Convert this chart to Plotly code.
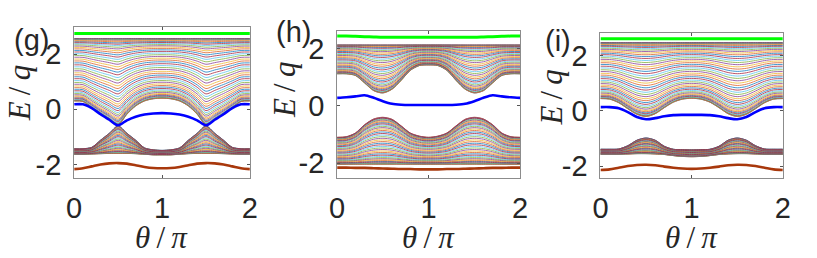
import plotly.graph_objects as go
import math

# ---------------- data ----------------
THETA = [0.0, 0.1, 0.2, 0.3, 0.4, 0.5, 0.6, 0.7, 0.8, 0.9, 1.0,
         1.1, 1.2, 1.3, 1.4, 1.5, 1.6, 1.7, 1.8, 1.9, 2.0]
X_TICKS = [0, 1, 2]
X_TICKTEXT = ["0", "1", "2"]
Y_TICKS = [-2, 0, 2]
Y_TICKTEXT = ["-2", "0", "2"]
PANEL_LABELS = ["(g)", "(h)", "(i)"]

# panel (g)
G_GREEN = [2.75] * 21
G_UP_TOP = [2.56] * 21
G_UP_EDGE = [0.30, 0.28, 0.06, -0.16, -0.36, -0.56, -0.18, 0.12, 0.30, 0.38, 0.40,
             0.38, 0.30, 0.12, -0.18, -0.56, -0.36, -0.16, 0.06, 0.28, 0.30]
G_BLUE = [0.18, 0.18, 0.04, -0.18, -0.38, -0.58, -0.40, -0.27, -0.19, -0.15, -0.14,
          -0.15, -0.19, -0.27, -0.40, -0.58, -0.38, -0.18, 0.04, 0.18, 0.18]
G_LO_TOP = [-1.43, -1.43, -1.38, -1.12, -0.87, -0.60, -0.87, -1.12, -1.40, -1.47, -1.49,
            -1.47, -1.40, -1.12, -0.87, -0.60, -0.87, -1.12, -1.38, -1.43, -1.43]
G_LO_BOT = [-1.63, -1.63, -1.62, -1.61, -1.60, -1.60, -1.60, -1.61, -1.63, -1.65, -1.65,
            -1.65, -1.63, -1.61, -1.60, -1.60, -1.60, -1.61, -1.62, -1.63, -1.63]
G_BROWN = [-2.17, -2.14, -2.07, -2.00, -1.96, -1.95, -1.97, -2.03, -2.09, -2.13, -2.14,
           -2.13, -2.09, -2.03, -1.97, -1.95, -1.96, -2.00, -2.07, -2.14, -2.17]

# panel (h)
H_GREEN = [2.44, 2.44, 2.43, 2.42, 2.41, 2.40, 2.40, 2.40, 2.40, 2.40, 2.40,
           2.40, 2.40, 2.40, 2.40, 2.40, 2.41, 2.42, 2.43, 2.44, 2.44]
H_UP_TOP = [2.13] * 21
H_UP_EDGE = [1.12, 1.12, 1.06, 0.80, 0.53, 0.45, 0.58, 0.89, 1.24, 1.41, 1.43,
             1.41, 1.24, 0.89, 0.58, 0.45, 0.53, 0.80, 1.06, 1.12, 1.12]
H_BLUE = [0.28, 0.30, 0.33, 0.37, 0.28, 0.16, 0.07, 0.04, 0.03, 0.03, 0.03,
          0.03, 0.03, 0.04, 0.07, 0.16, 0.28, 0.37, 0.33, 0.30, 0.28]
H_LO_TOP = [-1.10, -1.08, -0.95, -0.66, -0.46, -0.40, -0.47, -0.70, -0.95, -1.06, -1.10,
            -1.06, -0.95, -0.70, -0.47, -0.40, -0.46, -0.66, -0.95, -1.08, -1.10]
H_LO_BOT = [-2.04] * 21
H_BROWN = [-2.16, -2.16, -2.17, -2.17, -2.18, -2.19, -2.20, -2.21, -2.21, -2.22, -2.22,
           -2.22, -2.21, -2.21, -2.20, -2.19, -2.18, -2.17, -2.17, -2.16, -2.16]

# panel (i)
I_GREEN = [2.62] * 21
I_UP_TOP = [2.48] * 21
I_UP_EDGE = [0.45, 0.43, 0.30, 0.08, -0.12, -0.20, -0.10, 0.12, 0.32, 0.43, 0.46,
             0.43, 0.32, 0.12, -0.10, -0.20, -0.12, 0.08, 0.30, 0.43, 0.45]
I_BLUE = [0.14, 0.14, 0.10, -0.04, -0.22, -0.30, -0.26, -0.19, -0.15, -0.14, -0.14,
          -0.14, -0.15, -0.19, -0.26, -0.30, -0.22, -0.04, 0.10, 0.14, 0.14]
I_LO_TOP = [-1.39, -1.39, -1.38, -1.26, -1.06, -0.98, -1.06, -1.28, -1.39, -1.40, -1.41,
            -1.40, -1.39, -1.28, -1.06, -0.98, -1.06, -1.26, -1.38, -1.39, -1.39]
I_LO_BOT = [-1.57, -1.57, -1.57, -1.56, -1.55, -1.55, -1.56, -1.58, -1.62, -1.65, -1.66,
            -1.65, -1.62, -1.58, -1.56, -1.55, -1.55, -1.56, -1.57, -1.57, -1.57]
I_BROWN = [-2.14, -2.12, -2.06, -2.00, -1.96, -1.95, -1.97, -2.02, -2.06, -2.09, -2.10,
           -2.09, -2.06, -2.02, -1.97, -1.95, -1.96, -2.00, -2.06, -2.12, -2.14]

# number of bulk levels drawn in each band
N_LINES = {"g": (50, 36), "h": (42, 46), "i": (50, 36)}

# ---------------- styling ----------------
MATLAB = ["#0072BD", "#D95319", "#EDB120", "#7E2F8E", "#77AC30", "#4DBEEE", "#A2142F"]
GREEN = "#00FF00"
BLUE = "#0000FF"
BROWN = "#A8380C"
W, H = 817, 258

panels = [
    dict(key="g", green=G_GREEN, up=(G_UP_EDGE, G_UP_TOP), lo=(G_LO_BOT, G_LO_TOP),
         blue=G_BLUE, brown=G_BROWN,
         box=(67.5, 246.7, 27.5, 180.5), yr=[-2.48, 2.98],
         lab=(23.5, 41), ytl=(12, 95), xtl=(157, 241)),
    dict(key="h", green=H_GREEN, up=(H_UP_EDGE, H_UP_TOP), lo=(H_LO_BOT, H_LO_TOP),
         blue=H_BLUE, brown=H_BROWN,
         box=(335.7, 522.3, 31.7, 181.0), yr=[-2.53, 2.61],
         lab=(291, 33), ytl=(282, 91), xtl=(429, 241)),
    dict(key="i", green=I_GREEN, up=(I_UP_EDGE, I_UP_TOP), lo=(I_LO_BOT, I_LO_TOP),
         blue=I_BLUE, brown=I_BROWN,
         box=(604.3, 790.3, 33.3, 181.0), yr=[-2.44, 2.84],
         lab=(561, 42), ytl=(554, 99), xtl=(697, 241)),
]


def band_traces(lo, hi, n, xa, ya):
    groups = {c: ([], []) for c in range(len(MATLAB))}
    for k in range(n):
        s = (1 - math.cos(math.pi * k / (n - 1))) / 2
        ys = [a + s * (b - a) for a, b in zip(lo, hi)]
        gx, gy = groups[k % len(MATLAB)]
        gx.extend(THETA + [None])
        gy.extend(ys + [None])
    out = []
    for c, (gx, gy) in groups.items():
        out.append(go.Scatter(x=gx, y=gy, mode="lines", xaxis=xa, yaxis=ya,
                              line=dict(color=MATLAB[c], width=0.9, shape="spline", smoothing=0.8),
                              opacity=0.8, hoverinfo="skip", showlegend=False))
    return out


fig = go.Figure()
annotations = []
layout = {}
tickfont = dict(family="Liberation Sans, Arial, sans-serif", size=29, color="#262626")
labfont = dict(family="Liberation Sans, Arial, sans-serif", size=29, color="#262626")
titlefont = dict(family="Liberation Serif, Times New Roman, serif", size=31, color="#262626")

for j, p in enumerate(panels):
    sfx = "" if j == 0 else str(j + 1)
    xa, ya = "x" + sfx, "y" + sfx
    n_up, n_lo = N_LINES[p["key"]]
    for t in band_traces(p["up"][0], p["up"][1], n_up, xa, ya):
        fig.add_trace(t)
    for t in band_traces(p["lo"][0], p["lo"][1], n_lo, xa, ya):
        fig.add_trace(t)
    for ys, col, wd in [(p["green"], GREEN, 3), (p["blue"], BLUE, 2.6), (p["brown"], BROWN, 2.6)]:
        fig.add_trace(go.Scatter(x=THETA, y=ys, mode="lines", xaxis=xa, yaxis=ya,
                                 line=dict(color=col, width=wd, shape="spline", smoothing=0.8),
                                 hoverinfo="skip", showlegend=False))
    x0, x1, y0, y1 = p["box"]
    layout["xaxis" + sfx] = dict(domain=[x0 / W, x1 / W], range=[0, 2], anchor=ya,
                                 tickvals=X_TICKS, ticktext=X_TICKTEXT,
                                 ticks="inside", ticklen=3, tickcolor="#555555",
                                 showline=True, linecolor="#8c8c8c", linewidth=1, mirror="ticks",
                                 showgrid=False, zeroline=False, tickfont=tickfont,
                                 ticklabelstandoff=4)
    layout["yaxis" + sfx] = dict(domain=[1 - y1 / H, 1 - y0 / H], range=p["yr"], anchor=xa,
                                 tickvals=Y_TICKS, ticktext=Y_TICKTEXT,
                                 ticks="inside", ticklen=3, tickcolor="#555555",
                                 showline=True, linecolor="#8c8c8c", linewidth=1, mirror="ticks",
                                 showgrid=False, zeroline=False, tickfont=tickfont,
                                 ticklabelstandoff=6)
    lx, ly = p["lab"]
    annotations.append(dict(text=PANEL_LABELS[j], x=lx / W, y=1 - ly / H, xref="paper", yref="paper",
                            showarrow=False, xanchor="center", yanchor="middle", font=labfont))
    tx, ty = p["ytl"]
    annotations.append(dict(text="<i>E</i>\u2009/\u2009<i>q</i>", x=tx / W, y=1 - ty / H,
                            xref="paper", yref="paper", showarrow=False, textangle=-90,
                            xanchor="center", yanchor="middle", font=titlefont))
    xx, xy = p["xtl"]
    annotations.append(dict(text="<i>\u03b8</i>\u2009/\u2009<i>\u03c0</i>", x=xx / W,
                            y=1 - xy / H, xref="paper", yref="paper", showarrow=False,
                            xanchor="center", yanchor="middle", font=titlefont))

fig.update_layout(width=W, height=H, margin=dict(l=0, r=0, t=0, b=0),
                  paper_bgcolor="white", plot_bgcolor="white",
                  annotations=annotations, showlegend=False, **layout)
fig.write_html("out.html", config={"displayModeBar": False},
               post_script="document.body.style.margin='0px';")
